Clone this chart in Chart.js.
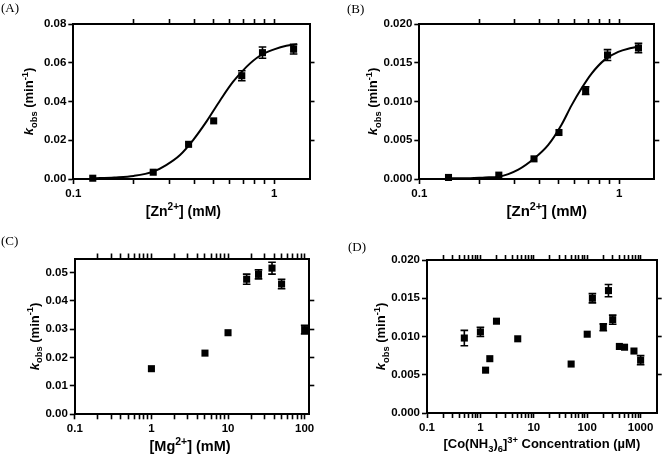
<!DOCTYPE html>
<html>
<head>
<meta charset="utf-8">
<script src="https://cdn.jsdelivr.net/npm/chart.js@4.4.1/dist/chart.umd.min.js"></script>
<style>
  body { margin: 0; background: #fff; }
  #wrap { position: relative; width: 663px; height: 459px; overflow: hidden; background: #fff; }
  canvas { position: absolute; }
  .lbl { position: absolute; font: 13px "Liberation Serif", serif; line-height: 13px; color: #000; }
</style>
</head>
<body>
<div id="wrap">
  <canvas id="cA" width="331" height="230" style="left:0;top:0"></canvas>
  <canvas id="cB" width="332" height="230" style="left:331px;top:0"></canvas>
  <canvas id="cC" width="331" height="229" style="left:0;top:230px"></canvas>
  <canvas id="cD" width="332" height="229" style="left:331px;top:230px"></canvas>
  <div class="lbl" style="left:1px;top:1px">(A)</div>
  <div class="lbl" style="left:347px;top:2px">(B)</div>
  <div class="lbl" style="left:1px;top:234px">(C)</div>
  <div class="lbl" style="left:348px;top:240px">(D)</div>
</div>
<script>
// ---- data ----
// (A) Zn2+ dependence
var znA = [0.125, 0.25, 0.375, 0.5, 0.69, 0.875, 1.25];
var kobsA = [0.0004, 0.0035, 0.0179, 0.0300, 0.0533, 0.0652, 0.0670];
var errA = [0.0002, 0.0003, 0.0006, 0.0006, 0.0026, 0.0029, 0.0025];
var fitXA = [0.125, 0.16, 0.2, 0.25, 0.29, 0.34, 0.395, 0.46, 0.54, 0.625, 0.73, 0.85, 1.0, 1.15, 1.3];
var fitYA = [0.0003, 0.0008, 0.0016, 0.0038, 0.0072, 0.0124, 0.0201, 0.0296, 0.0408, 0.0502, 0.058, 0.0636, 0.0669, 0.0688, 0.0695];

// (B) Zn2+ dependence
var znB = [0.14, 0.25, 0.375, 0.5, 0.68, 0.875, 1.25];
var kobsB = [0.0002, 0.0005, 0.0026, 0.0060, 0.0114, 0.0160, 0.0169];
var errB = [0.0001, 0.0001, 0.0002, 0.0002, 0.0005, 0.0007, 0.0006];
var fitXB = [0.14, 0.18, 0.213, 0.25, 0.313, 0.374, 0.442, 0.515, 0.578, 0.649, 0.728, 0.848, 0.99, 1.15, 1.29];
var fitYB = [0.0001, 0.0001, 0.0002, 0.0003, 0.0012, 0.0026, 0.0044, 0.0070, 0.0095, 0.0117, 0.0136, 0.0154, 0.0164, 0.0169, 0.0172];

// (C) Mg2+ dependence
var mg = [1, 5, 10, 17.5, 25, 37.5, 50, 100];
var kobsC = [0.0161, 0.0216, 0.0288, 0.0477, 0.0494, 0.0516, 0.0460, 0.0299];
var errC = [0.0003, 0.0003, 0.0004, 0.0018, 0.0016, 0.0021, 0.0017, 0.0015];

// (D) Co(NH3)6 3+ dependence
var co = [0.5, 1, 1.25, 1.5, 2, 5, 50, 100, 125, 200, 250, 300, 400, 500, 750, 1000];
var kobsD = [0.0098, 0.0106, 0.0056, 0.0071, 0.0120, 0.0097, 0.0064, 0.0103, 0.0150, 0.0112, 0.0160, 0.0122, 0.0087, 0.0086, 0.0081, 0.0069];
var errD = [0.0010, 0.0006, 0.0002, 0.0002, 0.0002, 0.0002, 0.0002, 0.0002, 0.0006, 0.00045, 0.0008, 0.0006, 0.0002, 0.0002, 0.0002, 0.0006];

// axis ticks / labels
var yTicksA = [0, 0.02, 0.04, 0.06, 0.08];
var yTicksB = [0, 0.005, 0.010, 0.015, 0.020];
var yTicksC = [0, 0.01, 0.02, 0.03, 0.04, 0.05];
var yTicksD = [0, 0.005, 0.010, 0.015, 0.020];
var xLabelsZn = [0.1, 1];
var xLabelsMg = [0.1, 1, 10, 100];
var xLabelsCo = [0.1, 1, 10, 100, 1000];

// titles as [text, style] pieces
var yTitle = [['k', 'it'], ['obs', 'sub'], [' (min'], ['-1', 'sup'], [')']];
var xTitleZn = [['[Zn'], ['2+', 'sup'], ['] (mM)']];
var xTitleMg = [['[Mg'], ['2+', 'sup'], ['] (mM)']];
var xTitleCo = [['[Co(NH'], ['3', 'sub'], [')'], ['6', 'sub'], [']'], ['3+', 'sup'], [' Concentration (\u00B5M)']];

// log tick positions 1..9 x 10^n between two decades
function logTicks(lo, hi) {
  var out = [];
  for (var d = lo; d < hi; d++) {
    for (var m = 1; m < 10; m++) out.push(m * Math.pow(10, d));
  }
  out.push(Math.pow(10, hi));
  return out;
}

function pts(xs, ys) {
  return xs.map(function (x, i) { return { x: x, y: ys[i] }; });
}

var FONT = '"Liberation Sans", Arial, sans-serif';

function pieceFont(p, size) {
  var s = (p[1] === 'sub' || p[1] === 'sup') ? size * 0.72 : size;
  return (p[1] === 'it' ? 'italic ' : '') + 'bold ' + s + 'px ' + FONT;
}

function drawRich(ctx, pieces, cx, baseY, size) {
  var total = 0;
  pieces.forEach(function (p) { ctx.font = pieceFont(p, size); total += ctx.measureText(p[0]).width; });
  var x = cx - total / 2;
  ctx.textAlign = 'left';
  ctx.textBaseline = 'alphabetic';
  pieces.forEach(function (p) {
    ctx.font = pieceFont(p, size);
    var dy = p[1] === 'sub' ? size * 0.28 : (p[1] === 'sup' ? -size * 0.42 : 0);
    ctx.fillText(p[0], x, baseY + dy);
    x += ctx.measureText(p[0]).width;
  });
}

// axis titles with sub/superscripts
var richTitles = {
  id: 'richTitles',
  afterDraw: function (chart) {
    var o = chart.options.plugins.richTitles;
    var a = chart.chartArea, ctx = chart.ctx;
    ctx.save();
    ctx.fillStyle = '#000';
    drawRich(ctx, o.x, (a.left + a.right) / 2 + o.xShift, a.bottom + o.xGap, o.xSize);
    ctx.translate(a.left - o.yGap, (a.top + a.bottom) / 2);
    ctx.rotate(-Math.PI / 2);
    drawRich(ctx, o.y, 0, 0, o.ySize);
    ctx.restore();
  }
};

// vertical error bars with caps
var errorBars = {
  id: 'errorBars',
  afterDatasetsDraw: function (chart) {
    var ctx = chart.ctx, xs = chart.scales.x, ys = chart.scales.y;
    ctx.save();
    ctx.strokeStyle = '#000';
    ctx.lineWidth = 1.6;
    chart.data.datasets.forEach(function (ds) {
      if (!ds.errors) return;
      ds.data.forEach(function (p, i) {
        var px = xs.getPixelForValue(p.x);
        var top = ys.getPixelForValue(p.y + ds.errors[i]);
        var bot = ys.getPixelForValue(p.y - ds.errors[i]);
        if ((bot - top) / 2 < 3.4) return; // hidden behind the marker
        ctx.beginPath();
        ctx.moveTo(px, top); ctx.lineTo(px, bot);
        ctx.moveTo(px - 3.8, top); ctx.lineTo(px + 3.8, top);
        ctx.moveTo(px - 3.8, bot); ctx.lineTo(px + 3.8, bot);
        ctx.stroke();
      });
    });
    ctx.restore();
  }
};

function axis(kind, pos, min, max, ticks, size, labelFn) {
  var horiz = pos === 'top' || pos === 'bottom';
  var main = pos === 'left' || pos === 'bottom';
  return {
    type: kind,
    axis: horiz ? 'x' : 'y',
    position: pos,
    min: min,
    max: max,
    afterBuildTicks: function (s) { s.ticks = ticks.map(function (v) { return { value: v }; }); },
    afterFit: function (s) {
      if (horiz) s.height = size; else s.width = size;
      s.paddingLeft = s.paddingRight = s.paddingTop = s.paddingBottom = 0;
    },
    border: { display: true, color: '#000', width: 2 },
    grid: { drawOnChartArea: false, drawTicks: true, tickLength: 5, tickWidth: 1.6, tickColor: '#000' },
    ticks: {
      display: main,
      autoSkip: false,
      maxRotation: 0,
      padding: horiz ? 3 : 2,
      color: '#000',
      font: { family: FONT, size: 11.5, weight: 'bold' },
      callback: labelFn || function () { return ''; }
    }
  };
}

function logLabel(list) {
  return function (v) {
    for (var i = 0; i < list.length; i++) {
      if (Math.abs(v - list[i]) < list[i] * 1e-6) return String(list[i]);
    }
    return '';
  };
}

function fixed(dec) {
  return function (v) { return v.toFixed(dec); };
}

function panel(id, p) {
  var cv = document.getElementById(id);
  var W = cv.width, H = cv.height;
  var a = p.area; // [left, top, right, bottom] inside the canvas
  var xt = p.xTicks, yt = p.yTicks;
  var datasets = [{
    data: pts(p.x, p.y),
    errors: p.err,
    pointStyle: 'rect',
    pointRadius: 5,
    backgroundColor: '#000',
    borderWidth: 0,
    clip: false
  }];
  if (p.fitX) {
    datasets.push({
      data: pts(p.fitX, p.fitY),
      showLine: true,
      pointRadius: 0,
      borderColor: '#000',
      borderWidth: 2,
      cubicInterpolationMode: 'monotone',
      clip: false
    });
  }
  new Chart(cv, {
    type: 'scatter',
    data: { datasets: datasets },
    options: {
      responsive: false,
      animation: false,
      devicePixelRatio: 1,
      layout: { padding: 0 },
      plugins: {
        legend: { display: false },
        tooltip: { enabled: false },
        richTitles: { x: p.xTitle, y: yTitle, xGap: p.xGap, xShift: p.xShift, xSize: p.xSize, yGap: p.yGap, ySize: 13 }
      },
      scales: {
        x: axis('logarithmic', 'bottom', p.xMin, p.xMax, xt, H - a[3], logLabel(p.xLabels)),
        x2: axis('logarithmic', 'top', p.xMin, p.xMax, xt.slice(1), a[1]),
        y: axis('linear', 'left', 0, p.yMax, yt, a[0], fixed(p.dec)),
        y2: axis('linear', 'right', 0, p.yMax, yt.slice(1, yt.length - 1), W - a[2])
      }
    },
    plugins: [errorBars, richTitles]
  });
}

panel('cA', {
  x: znA, y: kobsA, err: errA, fitX: fitXA, fitY: fitYA,
  area: [73.3, 24, 309.5, 179],
  xMin: 0.1, xMax: 1.5, xTicks: logTicks(-1, 0), xLabels: xLabelsZn,
  yMax: 0.08, yTicks: yTicksA, dec: 2,
  xTitle: xTitleZn, xGap: 37, xShift: -8, xSize: 14, yGap: 40
});

panel('cB', {
  x: znB, y: kobsB, err: errB, fitX: fitXB, fitY: fitYB,
  area: [88.3, 24, 323.3, 179],
  xMin: 0.1, xMax: 1.5, xTicks: logTicks(-1, 0), xLabels: xLabelsZn,
  yMax: 0.02, yTicks: yTicksB, dec: 3,
  xTitle: xTitleZn, xGap: 37, xShift: 10, xSize: 15, yGap: 42
});

panel('cC', {
  x: mg, y: kobsC, err: errC,
  area: [74.8, 28.5, 309.3, 184.3],
  xMin: 0.1, xMax: 115, xTicks: logTicks(-1, 2), xLabels: xLabelsMg,
  yMax: 0.055, yTicks: yTicksC, dec: 2,
  xTitle: xTitleMg, xGap: 37, xShift: -2, xSize: 14.5, yGap: 36
});

panel('cD', {
  x: co, y: kobsD, err: errD,
  area: [96, 30, 325.7, 183],
  xMin: 0.1, xMax: 2000, xTicks: logTicks(-1, 3), xLabels: xLabelsCo,
  yMax: 0.02, yTicks: yTicksD, dec: 3,
  xTitle: xTitleCo, xGap: 35, xShift: 0, xSize: 13, yGap: 42
});
</script>
</body>
</html>
